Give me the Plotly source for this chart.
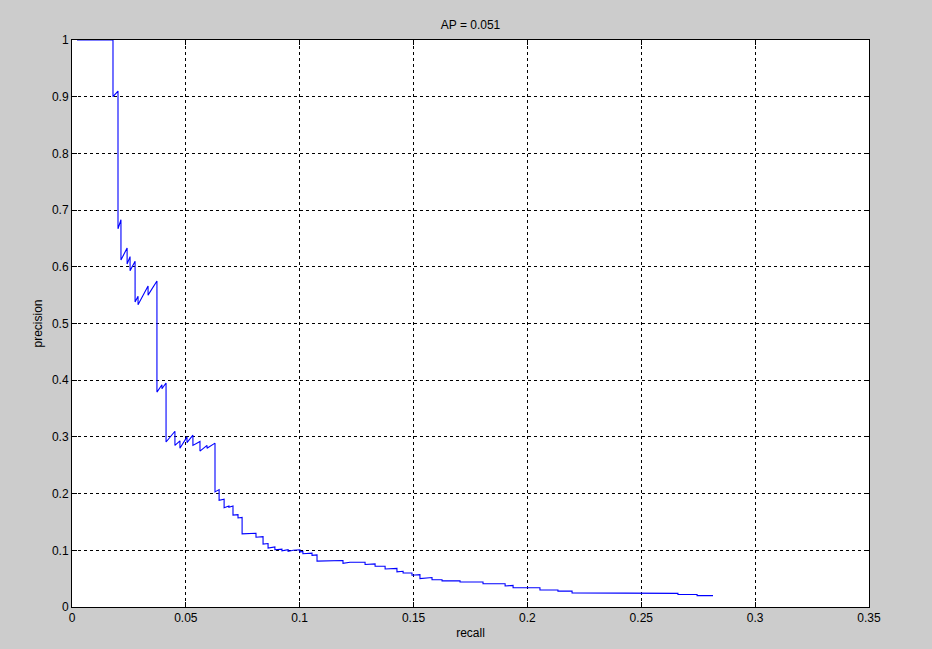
import plotly.graph_objects as go

recall = [0.0022, 0.0180, 0.0180, 0.0202, 0.0202, 0.0215, 0.0215, 0.0242, 0.0242, 0.0255,
          0.0255, 0.0277, 0.0277, 0.0290, 0.0290, 0.0334, 0.0334, 0.0373, 0.0373, 0.0395,
          0.0395, 0.0413, 0.0413, 0.0452, 0.0452, 0.0474, 0.0474, 0.0505, 0.0505, 0.0531,
          0.0531, 0.0562, 0.0562, 0.0593, 0.0593, 0.0628, 0.0628, 0.0646, 0.0646, 0.0668,
          0.0668, 0.0689, 0.0689, 0.0707, 0.0707, 0.0729, 0.0729, 0.0747, 0.0747, 0.0808,
          0.0808, 0.0839, 0.0839, 0.0861, 0.0861, 0.0891, 0.0891, 0.0922, 0.0922, 0.0949,
          0.0949, 0.0971, 0.1001, 0.1001, 0.1014, 0.1014, 0.1054, 0.1054, 0.1076, 0.1076,
          0.1190, 0.1190, 0.1221, 0.1287, 0.1287, 0.1331, 0.1331, 0.1375, 0.1375, 0.1427,
          0.1427, 0.1454, 0.1454, 0.1493, 0.1493, 0.1528, 0.1528, 0.1581, 0.1581, 0.1625,
          0.1625, 0.1704, 0.1704, 0.1805, 0.1805, 0.1902, 0.1902, 0.1937, 0.1937, 0.2055,
          0.2055, 0.2134, 0.2134, 0.2196, 0.2196, 0.2231, 0.2231, 0.2661, 0.2661, 0.2745,
          0.2745, 0.2815]
precision = [1.000, 1.000, 0.900, 0.910, 0.667, 0.683, 0.612, 0.633, 0.605, 0.618,
             0.593, 0.610, 0.538, 0.548, 0.533, 0.566, 0.550, 0.575, 0.379, 0.392,
             0.385, 0.395, 0.291, 0.310, 0.285, 0.293, 0.280, 0.300, 0.290, 0.303,
             0.285, 0.292, 0.275, 0.285, 0.280, 0.289, 0.203, 0.207, 0.188, 0.190,
             0.175, 0.178, 0.176, 0.178, 0.162, 0.163, 0.157, 0.158, 0.129, 0.130,
             0.123, 0.124, 0.111, 0.112, 0.104, 0.106, 0.101, 0.102, 0.099, 0.101,
             0.098, 0.100, 0.101, 0.097, 0.098, 0.094, 0.095, 0.091, 0.092, 0.081,
             0.082, 0.077, 0.079, 0.079, 0.075, 0.076, 0.072, 0.072, 0.067, 0.068,
             0.062, 0.063, 0.060, 0.060, 0.056, 0.057, 0.050, 0.052, 0.048, 0.048,
             0.046, 0.046, 0.044, 0.044, 0.041, 0.041, 0.037, 0.038, 0.034, 0.034,
             0.030, 0.030, 0.028, 0.028, 0.025, 0.025, 0.024, 0.024, 0.022, 0.022,
             0.020, 0.020]

x_ticks = [0, 0.05, 0.1, 0.15, 0.2, 0.25, 0.3, 0.35]
x_ticklabels = ["0", "0.05", "0.1", "0.15", "0.2", "0.25", "0.3", "0.35"]
y_ticks = [0, 0.1, 0.2, 0.3, 0.4, 0.5, 0.6, 0.7, 0.8, 0.9, 1]
y_ticklabels = ["0", "0.1", "0.2", "0.3", "0.4", "0.5", "0.6", "0.7", "0.8", "0.9", "1"]

fig = go.Figure()
fig.add_trace(go.Scatter(x=recall, y=precision, mode="lines",
                         line=dict(color="rgb(0,0,255)", width=1.1), showlegend=False,
                         hoverinfo="skip"))

axis_common = dict(showline=True, linecolor="black", linewidth=1, mirror="ticks",
                   ticks="inside", ticklen=5, tickcolor="black",
                   showgrid=True, gridcolor="black", gridwidth=1, griddash="3px,3px",
                   zeroline=False, tickfont=dict(size=12, color="black"))

fig.update_layout(
    width=932, height=649,
    paper_bgcolor="rgb(204,204,204)", plot_bgcolor="white",
    margin=dict(l=72, r=63, t=40, b=42),
    font=dict(family="Liberation Sans, Arial, sans-serif", size=12, color="black"),
    title=dict(text="AP = 0.051", x=0.5, xref="paper", y=1 - 25 / 649, yanchor="middle",
               font=dict(size=12, color="black")),
    xaxis=dict(range=[0, 0.35], tickvals=x_ticks, ticktext=x_ticklabels,
               title=dict(text="recall", standoff=4, font=dict(size=12)), **axis_common),
    yaxis=dict(range=[0, 1], tickvals=y_ticks, ticktext=y_ticklabels,
               title=dict(text="precision", standoff=6, font=dict(size=12)), **axis_common),
)

fig.write_html(
    "out.html",
    config={"displayModeBar": False},
    post_script="document.body.style.margin='0';document.body.style.padding='0';"
                "document.body.style.background='rgb(204,204,204)';"
                "document.documentElement.style.overflow='hidden';",
)
